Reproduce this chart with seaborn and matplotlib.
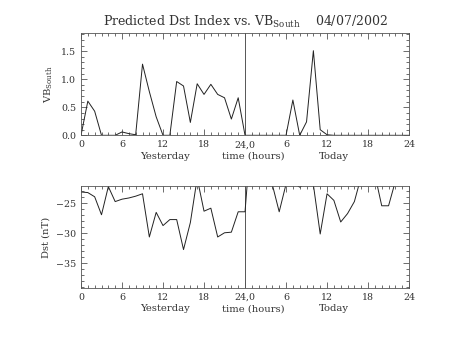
import matplotlib
matplotlib.use("Agg")
import matplotlib.pyplot as plt
import seaborn as sns
import numpy as np
import pandas as pd
from matplotlib.ticker import MultipleLocator, FixedLocator

hours = list(range(49))

vb_south = [0.0, 0.61, 0.43, 0.0, 0.0, 0.0, 0.06, 0.03, 0.01, 1.27, 0.78, 0.33, 0.0,
            0.0, 0.96, 0.88, 0.23, 0.92, 0.73, 0.91, 0.73, 0.67, 0.29, 0.67, 0.0,
            0.0, 0.0, 0.0, 0.0, 0.0, 0.0, 0.63, 0.0, 0.24, 1.51, 0.10, 0.01,
            0.0, 0.0, 0.0, 0.0, 0.0, 0.0, 0.0, 0.0, 0.0, 0.0, 0.0, 0.0]

dst = [-23.1, -23.2, -23.9, -26.9, -22.2, -24.7, -24.3, -24.1, -23.8, -23.4, -30.6,
       -26.5, -28.7, -27.7, -27.7, -32.7, -28.2, -20.8, -26.3, -25.8, -30.6, -29.9,
       -29.8, -26.4, -26.4, -12.0, -15.0, -18.0, -21.9, -26.4, -21.8, -21.5, -22.3,
       -21.5, -21.9, -30.1, -23.4, -24.5, -28.1, -26.7, -24.7, -20.5, -19.0, -20.2,
       -25.4, -25.4, -21.3, -20.0, -20.0]

xtick_pos = [0, 6, 12, 18, 24, 30, 36, 42, 48]
xtick_labels = ["0", "6", "12", "18", "24,0", "6", "12", "18", "24"]

sns.set_style("ticks")
plt.rcParams['font.family'] = ['DejaVu Serif']
plt.rcParams['mathtext.fontset'] = 'dejavuserif'

df = pd.DataFrame({"hour": hours, "vb": vb_south, "dst": dst})

fig = plt.figure(figsize=(4.53, 3.40), dpi=100)
ax1 = fig.add_axes([0.1788, 0.602, 0.903 - 0.1788, 0.300])
ax2 = fig.add_axes([0.1788, 0.153, 0.903 - 0.1788, 0.300])

tick_fs = 6.8
lab_fs = 7.2

for ax in (ax1, ax2):
    ax.set_xlim(0, 48)
    ax.xaxis.set_major_locator(FixedLocator(xtick_pos))
    ax.set_xticklabels(xtick_labels)
    ax.xaxis.set_minor_locator(MultipleLocator(1))
    ax.tick_params(which='both', direction='in', top=True, right=True,
                   labelsize=tick_fs, colors='#333333', width=0.5)
    ax.tick_params(which='major', length=4)
    ax.tick_params(which='minor', length=2)
    for s in ax.spines.values():
        s.set_linewidth(0.6)
        s.set_color('#555555')
    ax.axvline(24, color='#555555', lw=0.7)
    ax.set_xlabel("")
    for xpos, txt in [(12.3, "Yesterday"), (25.2, "time (hours)"), (37.0, "Today")]:
        ax.text(xpos, -0.16, txt, transform=ax.get_xaxis_transform(),
                ha='center', va='top', fontsize=lab_fs, color='#333333')

sns.lineplot(data=df, x="hour", y="vb", ax=ax1, color='#222222', lw=0.7)
ax1.set_ylim(0, 1.82)
ax1.yaxis.set_major_locator(FixedLocator([0, 0.5, 1.0, 1.5]))
ax1.set_yticklabels(["0.0", "0.5", "1.0", "1.5"])
ax1.yaxis.set_minor_locator(MultipleLocator(0.1))
ax1.set_ylabel(r"VB$_\mathregular{South}$", fontsize=lab_fs, color='#333333', labelpad=4)
ax1.set_xlabel("")
ax1.set_title(r"Predicted Dst Index vs. VB$_\mathregular{South}$    04/07/2002",
              fontsize=9, color='#333333', pad=5)

sns.lineplot(data=df, x="hour", y="dst", ax=ax2, color='#222222', lw=0.7)
ax2.set_ylim(-39.1, -22.1)
ax2.yaxis.set_major_locator(FixedLocator([-25, -30, -35]))
ax2.set_yticklabels(["\u221225", "\u221230", "\u221235"])
ax2.yaxis.set_minor_locator(MultipleLocator(1))
ax2.set_ylabel("Dst (nT)", fontsize=lab_fs, color='#333333', labelpad=4)
ax2.set_xlabel("")

fig.savefig("out.png", dpi=100, facecolor='white')
